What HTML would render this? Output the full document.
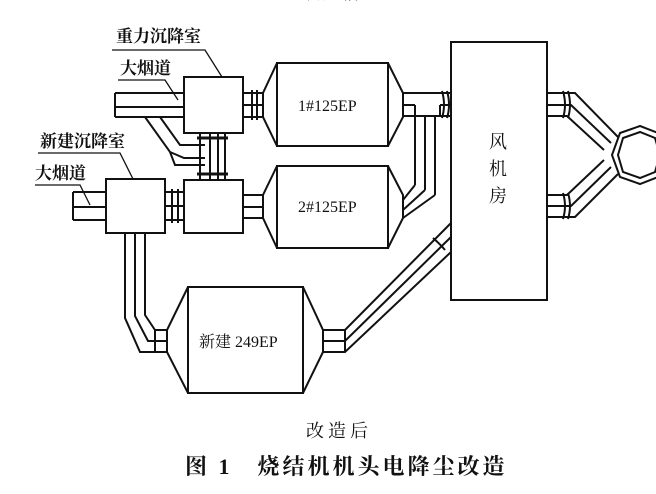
<!DOCTYPE html>
<html><head><meta charset="utf-8"><style>
html,body{margin:0;padding:0;background:#fff;}
svg{display:block;}
text{font-family:"Liberation Serif","Noto Serif CJK SC","Noto Sans CJK SC",serif;fill:#111;}
</style></head><body>
<svg width="656" height="494" viewBox="0 0 656 494" xmlns="http://www.w3.org/2000/svg">
<g fill="none" stroke="#111" stroke-width="2">
<text x="303" y="-1" font-size="17" stroke="none" letter-spacing="3">改造前</text>

<path d="M115 93 H184 M115 117 H184 M115 93 V117 M115 107 H184"/>
<path d="M145 117 L170 152 L184 158 H205 M160 117 L180 145 L205 145 M170 152 L175 165 H205"/>
<rect x="184" y="77" width="59" height="56"/>
<path d="M243 93 H263 M243 117 H263 M243 105 H263"/>
<path d="M252 90 V120 M257 90 V120"/>
<rect x="277" y="63" width="111" height="83"/>
<path d="M277 63 L263 93 V117 L277 146 M388 63 L403 93 V117 L388 146"/>
<text x="298" y="111" font-size="16" stroke="none">1#125EP</text>
<path d="M200 133 V180 M210 133 V180 M218 133 V180 M225 133 V180"/>
<path d="M197 138 H228 M197 174 H228" stroke-width="3"/>
<rect x="184" y="180" width="59" height="53"/>
<rect x="106" y="179" width="59" height="54"/>
<path d="M73 192 H106 M73 220 H106 M73 192 V220 M73 207 H106"/>
<path d="M165 192 H184 M165 220 H184 M165 206 H184 M172 189 V223 M178 189 V223"/>
<path d="M243 195 H263 M243 218 H263 M243 207 H263"/>
<rect x="277" y="166" width="111" height="82"/>
<path d="M277 166 L263 195 V218 L277 248 M388 166 L403 195 V218 L388 248"/>
<text x="298" y="212" font-size="16" stroke="none">2#125EP</text>
<path d="M403 93 H451 M403 116 H451 M403 105 H415 M440 105 H451"/>
<path d="M415 105 V185 M425 116 V190 M435 116 V195 M440 105 V116"/>
<path d="M403 200 L415 185 M403 210 L425 190 M403 218 L435 195 M425 116 H440"/>
<path d="M442 91 Q446 105 442 118 M447 91 Q451 105 447 118"/>
<rect x="451" y="42" width="96" height="258"/>
<text x="489" y="148" font-size="18" stroke="none">风</text>
<text x="489" y="175" font-size="18" stroke="none">机</text>
<text x="489" y="202" font-size="18" stroke="none">房</text>
<path d="M547 93 H575 L618 137 M547 116 H567 L604 150 M547 105 H571 L611 143"/>
<path d="M547 195 H567 L604 160 M547 217 H575 L618 174 M547 206 H571 L611 167"/>
<path d="M563 91 Q567 105 563 118 M568 91 Q572 105 568 118 M563 193 Q567 206 563 219 M568 193 Q572 206 568 219"/>
<polygon points="620,133 640,126 658,133 665,155 658,177 640,184 620,177 612,155"/>
<polygon points="623,138 640,132 655,138 660,155 655,172 640,178 623,172 618,155"/>
<path d="M125 233 V318 L140 352 H167 M145 233 V315 L155 330 H167 M135 233 V316 L148 341 H167 M155 330 V352"/>
<rect x="188" y="287" width="115" height="106"/>
<path d="M188 287 L167 330 V352 L188 393 M303 287 L323 330 V352 L303 393"/>
<text x="199" y="347" font-size="16" stroke="none">新建 249EP</text>
<path d="M323 330 H345 L451 223 M323 352 H345 L451 252 M323 341 H345 L451 237 M345 330 V352"/>
<path d="M433 238 Q440 244 445 250"/>
<g stroke="none" font-weight="bold">
<text x="116" y="42" font-size="17">重力沉降室</text>
<text x="120" y="74" font-size="17">大烟道</text>
<text x="40" y="147" font-size="17">新建沉降室</text>
<text x="35" y="179" font-size="17">大烟道</text>
</g>
<path d="M112 50 H205 L222 77" stroke-width="1.3"/>
<path d="M118 80 H165 L178 100" stroke-width="1.3"/>
<path d="M38 153 H120 L133 179" stroke-width="1.3"/>
<path d="M35 185 H80 L90 205" stroke-width="1.3"/>
<text x="306" y="437" font-size="18" stroke="none" letter-spacing="4">改造后</text>
<text x="185" y="474" font-size="22" stroke="none" font-weight="bold" letter-spacing="3" font-family="Liberation Sans,Noto Sans CJK SC,sans-serif">图 1　烧结机机头电降尘改造</text>
</g>
</svg>
</body></html>
